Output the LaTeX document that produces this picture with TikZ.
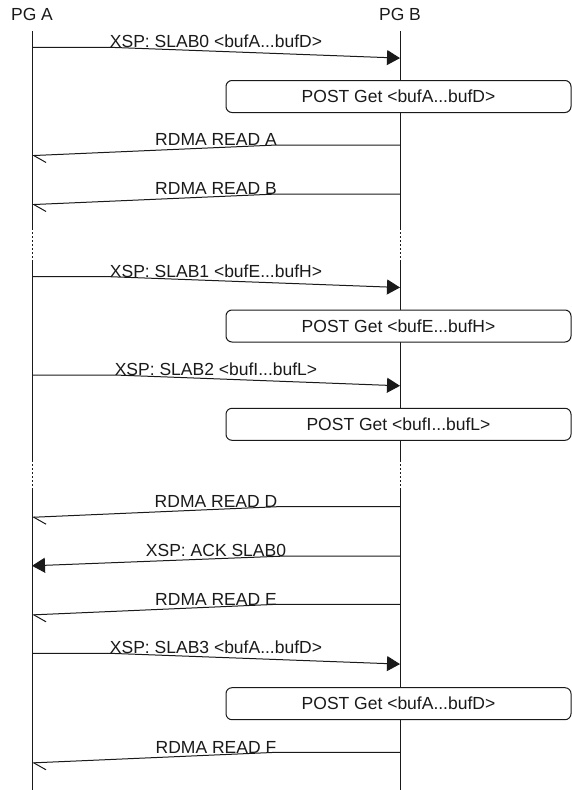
\documentclass[tikz,border=0pt]{standalone}
\usepackage{fontspec}
\setmainfont{Liberation Sans}
\usetikzlibrary{arrows.meta}
\definecolor{Ink}{HTML}{1A1A1A}

\begin{document}
\begin{tikzpicture}[x=1pt,y=-1pt,font=\fontsize{17.5}{20}\selectfont,
    life/.style={draw=Ink,line width=1pt},
    gap/.style={draw=Ink,line width=1pt,dash pattern=on 2pt off 2pt},
    msg/.style={draw=Ink,line width=1pt},
    lbl/.style={inner sep=0pt,anchor=base,text=Ink},
    postbox/.style={draw=Ink,fill=white,line width=1pt,rounded corners=6pt,
          minimum width=345pt,minimum height=32pt,inner sep=0pt,text=Ink},
    fwd/.style={-{Triangle[length=13pt,width=15pt]}},
    ret/.style={-{Straight Barb[harpoon,length=12pt,width=15pt]}},
    retfull/.style={-{Triangle[length=13pt,width=15pt]}}]
  \useasboundingbox (0,0) rectangle (572,790);
  % titles
  \node[lbl] (pga) at (32,20.5) {PG A};
  \node[lbl] (pgb) at (400,20.5) {PG B};
  % lifelines
  \foreach \xx/\nm in {32/a,400/b} {
    \coordinate (\nm0) at (\xx,31);
    \coordinate (\nm1) at (\xx,228);
    \coordinate (\nm2) at (\xx,260);
    \coordinate (\nm3) at (\xx,460);
    \coordinate (\nm4) at (\xx,490);
    \coordinate (\nm5) at (\xx,790);
    \draw[life] (\nm0) -- (\nm1);
    \draw[gap]  (\nm1) -- (\nm2);
    \draw[life] (\nm2) -- (\nm3);
    \draw[gap]  (\nm3) -- (\nm4);
    \draw[life] (\nm4) -- (\nm5);
  }
  % messages A -> B
  \foreach \yy/\nm/\txt in {47.3/s0/{XSP: SLAB0 <bufA...bufD>},
                             276.7/s1/{XSP: SLAB1 <bufE...bufH>},
                             375/s2/{XSP: SLAB2 <bufI...bufL>},
                             653.3/s3/{XSP: SLAB3 <bufA...bufD>}} {
    \node[lbl] (\nm) at (216,\yy+0.5) {\txt};
    \coordinate (\nm a) at (32,\yy);
    \coordinate (\nm b) at (400,\yy+10.8);
    \draw[msg,fwd] (\nm a) -- (\nm a -| \nm.west) -- (\nm b);
  }
  % reads B -> A
  \foreach \yy/\nm/\txt in {145/ra/{RDMA READ A},
                             194/rb/{RDMA READ B},
                             506.7/rd/{RDMA READ D},
                             604.3/re/{RDMA READ E},
                             752.3/rf/{RDMA READ F}} {
    \node[lbl] (\nm) at (216,\yy+0.8) {\txt};
    \coordinate (\nm b) at (400,\yy);
    \coordinate (\nm a) at (32,\yy+10.6);
    \draw[msg,ret] (\nm b) -- (\nm b -| \nm.east) -- (\nm a);
  }
  % ack B -> A
  \node[lbl] (ack) at (216,556.8) {XSP: ACK SLAB0};
  \coordinate (ackb) at (400,556);
  \coordinate (acka) at (32,565.8);
  \draw[msg,retfull] (ackb) -- (ackb -| ack.east) -- (acka);
  % posted gets
  \node[postbox] (p0) at (398.5,96.5) {POST Get <bufA...bufD>};
  \node[postbox] (p1) at (398.5,326) {POST Get <bufE...bufH>};
  \node[postbox] (p2) at (398.5,424.3) {POST Get <bufI...bufL>};
  \node[postbox] (p3) at (398.5,703.7) {POST Get <bufA...bufD>};
\end{tikzpicture}
\end{document}
